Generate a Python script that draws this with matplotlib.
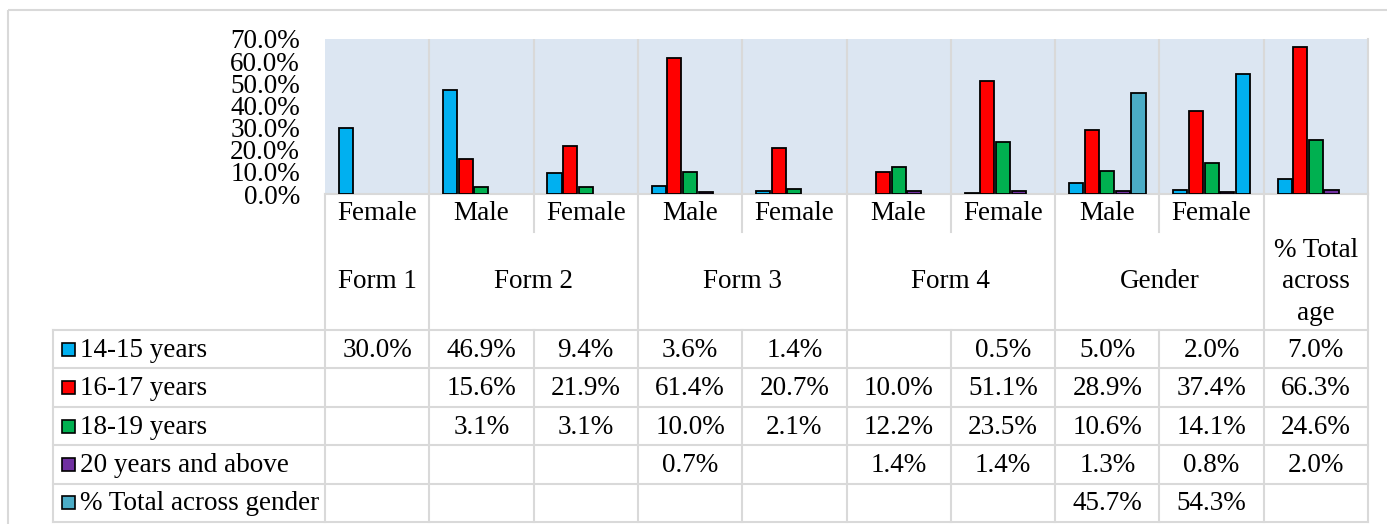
import numpy as np
import matplotlib
matplotlib.use("Agg")
import matplotlib.pyplot as plt
from matplotlib.patches import Rectangle

plt.rcParams['font.family'] = ['Liberation Serif', 'DejaVu Serif']
plt.rcParams['font.size'] = 19.5

nan = np.nan
categories = ['Female', 'Male', 'Female', 'Male', 'Female', 'Male', 'Female', 'Male', 'Female', '']
groups = ['Form 1', 'Form 2', 'Form 3', 'Form 4', 'Gender', '% Total\nacross\nage']
group_sizes = [1, 2, 2, 2, 2, 1]

series_names = ['14-15 years', '16-17 years', '18-19 years', '20 years and above', '% Total across gender']
age_14_15 = [30.0, 46.9, 9.4, 3.6, 1.4, nan, 0.5, 5.0, 2.0, 7.0]
age_16_17 = [nan, 15.6, 21.9, 61.4, 20.7, 10.0, 51.1, 28.9, 37.4, 66.3]
age_18_19 = [nan, 3.1, 3.1, 10.0, 2.1, 12.2, 23.5, 10.6, 14.1, 24.6]
age_20_up = [nan, nan, nan, 0.7, nan, 1.4, 1.4, 1.3, 0.8, 2.0]
total_gender = [nan, nan, nan, nan, nan, nan, nan, 45.7, 54.3, nan]
series = [age_14_15, age_16_17, age_18_19, age_20_up, total_gender]

colors = ['#00B0F0', '#FF0000', '#00B050', '#7030A0', '#4BACC6']
grid_c = '#D9D9D9'

# figure in pixels
W, H = 1387, 524
fig = plt.figure(figsize=(W / 100, H / 100), dpi=100)

PL, PR, PT, PB = 325, 1368, 39, 194      # plot area
CAT_B, GRP_B, TAB_B = 232, 330, 522       # table rows
LEG_L = 53
n = len(categories)
cw = (PR - PL) / n

ax = fig.add_axes([PL / W, 1 - PB / H, (PR - PL) / W, (PB - PT) / H])
ax.set_facecolor('#DCE6F2')
ax.set_xlim(-0.5, n - 0.5)
ax.set_ylim(0, 0.7)

x = np.arange(n)
step = 0.15
for k, vals in enumerate(series):
    v = np.array(vals) / 100
    cols = [colors[k]] * n
    if k == 4:
        cols[8] = colors[0]  # Excel point override in the source
    mask = ~np.isnan(v)
    ax.bar(x[mask] + (k - 2) * step, v[mask], width=0.135,
           color=np.array(cols)[mask], edgecolor='black', linewidth=1.3, zorder=3)

for b in np.arange(0.5, n - 0.5, 1):
    ax.axvline(b, color=grid_c, lw=1.5, zorder=1)
ax.set_yticks(np.arange(0, 0.71, 0.1))
ax.set_yticklabels(['%.1f%%' % (t * 100) for t in np.arange(0, 0.71, 0.1)])
ax.tick_params(axis='y', length=0, pad=18)
ax.set_xticks([])
for s in ['left', 'top']:
    ax.spines[s].set_visible(False)
for s in ['bottom', 'right']:
    ax.spines[s].set_color(grid_c)
    ax.spines[s].set_linewidth(1.5)

# overlay in pixel coords for the data table
tab = fig.add_axes([0, 0, 1, 1], facecolor='none')
tab.set_xlim(0, W)
tab.set_ylim(H, 0)
tab.axis('off')

tab.add_patch(Rectangle((8, 10), W + 20, H, fill=False, ec=grid_c, lw=1.5))

lw = 1.5
# vertical lines
starts = np.cumsum([0] + group_sizes)
for i in range(n + 1):
    xx = PL + i * cw
    if i in starts:
        tab.plot([xx, xx], [PB, TAB_B], color=grid_c, lw=lw)
    else:
        tab.plot([xx, xx], [PB, CAT_B], color=grid_c, lw=lw)
        tab.plot([xx, xx], [GRP_B, TAB_B], color=grid_c, lw=lw)
tab.plot([LEG_L, LEG_L], [GRP_B, TAB_B], color=grid_c, lw=lw)

rh = (TAB_B - GRP_B) / len(series)
for r in range(len(series) + 1):
    yy = GRP_B + r * rh
    tab.plot([LEG_L, PR], [yy, yy], color=grid_c, lw=lw)

# category labels
for i, c in enumerate(categories):
    tab.text(PL + (i + 0.5) * cw, (PB + CAT_B) / 2 + 1, c, ha='center', va='center')

# group labels
for g, (name, size) in enumerate(zip(groups, group_sizes)):
    cx = PL + (starts[g] + size / 2) * cw
    tab.text(cx, (CAT_B + GRP_B) / 2 + 1, name, ha='center', va='center',
             multialignment='center', linespacing=1.34)

# data rows
for r, (name, vals) in enumerate(zip(series_names, series)):
    yc = GRP_B + (r + 0.5) * rh + 1
    tab.add_patch(Rectangle((62, yc - 7.5), 13, 13, fc=colors[r], ec='black', lw=1.2))
    tab.text(80, yc, name, ha='left', va='center')
    for i, v in enumerate(vals):
        if not np.isnan(v):
            tab.text(PL + (i + 0.5) * cw, yc, '%.1f%%' % v, ha='center', va='center')

fig.savefig('out.png', dpi=100)
